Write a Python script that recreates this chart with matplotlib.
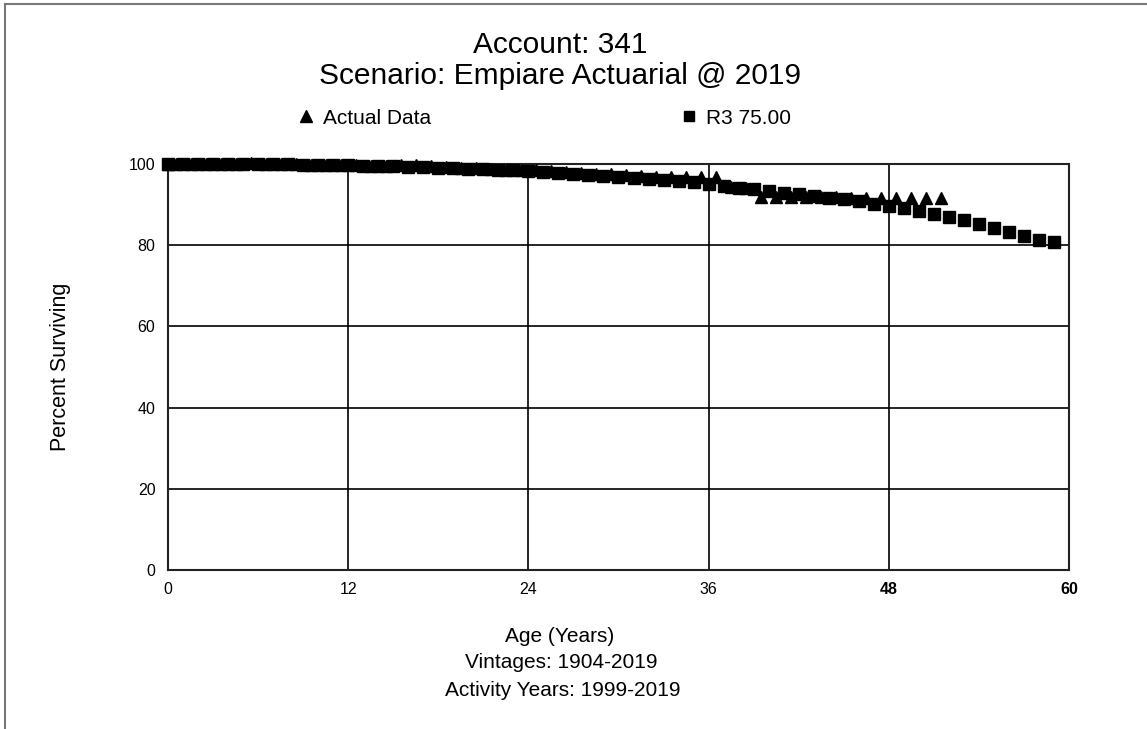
import matplotlib.pyplot as plt
from matplotlib.lines import Line2D

plt.rcParams['font.family'] = ['Liberation Sans', 'DejaVu Sans']

# R3 75.00 curve, one point per year of age
R3_AGES = list(range(0, 60))
R3_PCT = [100.0, 100.0, 100.0, 99.99, 99.98, 99.96, 99.94, 99.91, 99.88, 99.84,
          99.8, 99.75, 99.7, 99.62, 99.54, 99.45, 99.35, 99.24, 99.12, 98.98,
          98.84, 98.7, 98.55, 98.4, 98.2, 98.0, 97.75, 97.45, 97.2, 97.0,
          96.8, 96.5, 96.25, 96.0, 95.8, 95.55, 95.1, 94.5, 94.2, 93.8,
          93.3, 92.9, 92.5, 92.1, 91.7, 91.3, 90.8, 90.2, 89.6, 89.1,
          88.5, 87.8, 87.0, 86.1, 85.2, 84.3, 83.3, 82.3, 81.3, 80.7]

# observed survivors, half-year ages
ACT_AGES = [0, 0.5, 1.5, 2.5, 3.5, 4.5, 5.5, 6.5, 7.5, 8.5, 9.5, 10.5, 11.5,
            12.5, 13.5, 14.5, 15.5, 16.5, 17.5, 18.5, 19.5, 20.5, 21.5, 22.5,
            23.5, 24.5, 25.5, 26.5, 27.5, 28.5, 29.5, 30.5, 31.5, 32.5, 33.5,
            34.5, 35.5, 36.5, 37.5, 38.5, 39.5, 40.5, 41.5, 42.5, 43.5, 44.5,
            45.5, 46.5, 47.5, 48.5, 49.5, 50.5, 51.5]
ACT_PCT = [100.0, 100.0, 100.0, 100.0, 100.0, 100.0, 100.2, 99.9, 99.9, 99.9,
           99.8, 99.8, 99.8, 99.7, 99.6, 99.6, 99.7, 99.7, 99.6, 99.3, 99.1,
           98.9, 98.7, 98.6, 98.5, 98.4, 98.2, 98.0, 97.8, 97.6, 97.5, 97.3,
           97.1, 96.9, 96.8, 96.8, 96.8, 96.8, 94.3, 94.0, 91.8, 91.8, 91.8,
           91.9, 91.9, 91.8, 91.7, 91.7, 91.7, 91.7, 91.7, 91.7, 91.7]

X_TICKS = [0, 12, 24, 36, 48, 60]
Y_TICKS = [0, 20, 40, 60, 80, 100]

fig = plt.figure(figsize=(11.47, 7.29), dpi=100)
ax = fig.add_axes([168 / 1147, 1 - 570 / 729, (1069 - 168) / 1147, (570 - 164) / 729])

ax.set_xlim(0, 60)
ax.set_ylim(0, 100)
ax.set_xticks(X_TICKS)
ax.set_yticks(Y_TICKS)
ax.grid(True, color='black', linewidth=1.2)
ax.tick_params(length=0, labelsize=11.5, pad=9)
for s in ax.spines.values():
    s.set_linewidth(1.5)
    s.set_color('#222222')
for lbl in ax.get_xticklabels():
    if lbl.get_text() in ('48', '60'):
        lbl.set_fontweight('bold')

ax.plot(R3_AGES, R3_PCT, linestyle='none', marker='s', markersize=8.5,
        color='black', clip_on=False, zorder=3)
ax.plot(ACT_AGES, ACT_PCT, linestyle='none', marker='^', markersize=9,
        color='black', clip_on=False, zorder=3)

ax.set_ylabel('Percent Surviving', fontsize=15.5)
ax.yaxis.set_label_coords((71 - 168) / 901, 0.5)

# titles
fig.text(560 / 1147, 1 - 45 / 729, 'Account: 341', ha='center', va='center', fontsize=21.5)
fig.text(560 / 1147, 1 - 76 / 729, 'Scenario: Empiare Actuarial @ 2019', ha='center', va='center', fontsize=21.5)

# legend row
fig.legend(handles=[Line2D([], [], linestyle='none', marker='^', color='black', markersize=8,
                           label='Actual Data')],
           loc='center left', bbox_to_anchor=(277 / 1147, 1 - 118 / 729),
           frameon=False, fontsize=15, handletextpad=0.3, handlelength=1)
fig.legend(handles=[Line2D([], [], linestyle='none', marker='s', color='black', markersize=7,
                           label='R3 75.00')],
           loc='center left', bbox_to_anchor=(660 / 1147, 1 - 118 / 729),
           frameon=False, fontsize=15, handletextpad=0.3, handlelength=1)

# x-axis captions
fig.text(560 / 1147, 1 - 636 / 729, 'Age (Years)', ha='center', va='center', fontsize=15)
fig.text(561 / 1147, 1 - 663 / 729, 'Vintages: 1904-2019', ha='center', va='center', fontsize=15)
fig.text(563 / 1147, 1 - 691 / 729, 'Activity Years: 1999-2019', ha='center', va='center', fontsize=15)

# outer frame (top and left edges only)
fig.add_artist(Line2D([5 / 1147, 5 / 1147], [0, 1 - 4 / 729], color='#777777', linewidth=1.5))
fig.add_artist(Line2D([5 / 1147, 1], [1 - 4 / 729, 1 - 4 / 729], color='#777777', linewidth=1.5))

fig.savefig('out.png', dpi=100)
